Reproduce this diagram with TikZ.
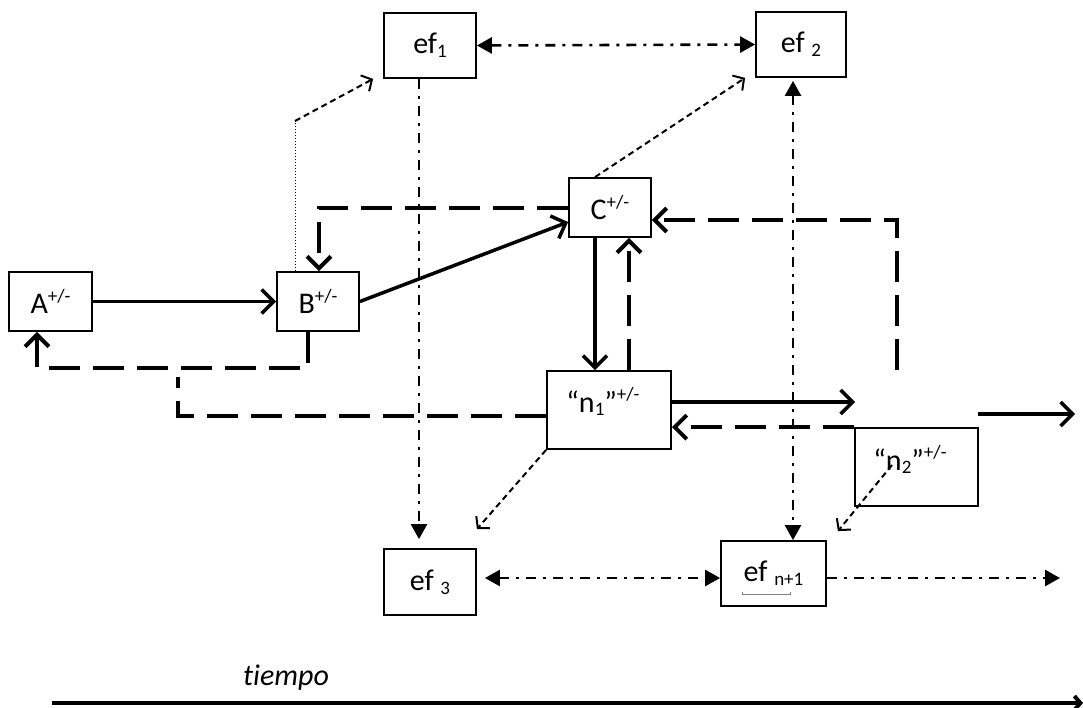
\documentclass[tikz,border=0pt]{standalone}
\usepackage{fontspec}
\setmainfont{Carlito}[Ligatures=NoCommon]
\usetikzlibrary{arrows.meta}
\newcommand\bigf{\fontsize{30}{34}\selectfont}
\newcommand\smf{\fontsize{19}{21}\selectfont}
\newcommand\supx[1]{\raisebox{0.38em}{\smf #1}}
\newcommand\subx[1]{\raisebox{-0.12em}{\smf #1}}
\begin{document}
\begin{tikzpicture}[x=1pt,y=-1pt,font=\bigf,
  box/.style={draw,line width=1.8pt,inner sep=0pt},
  strong/.style={line width=3.5pt},
  fb/.style={line width=4pt,dash pattern=on 31pt off 13pt},
  dd/.style={line width=2.6pt,dash pattern=on 10pt off 7pt on 3pt off 7pt},
  thd/.style={line width=2pt,dash pattern=on 6pt off 4pt},
  thdot/.style={line width=0.8pt,dash pattern=on 1.5pt off 1.5pt},
  sa/.style={-{Straight Barb[length=12pt,width=24pt]}},
  sb/.style={-{Straight Barb[length=8pt,width=18pt]}},
  ta/.style={-{Triangle[length=15pt,width=16pt]}},
  tb/.style={{Triangle[length=15pt,width=16pt]}-{Triangle[length=15pt,width=16pt]}}]
\useasboundingbox (0,0) rectangle (1083,707);
% boxes
\node[box,minimum width=92pt,minimum height=65pt] (ef1) at (430,45.5) {ef\subx{1}};
\node[box,minimum width=90pt,minimum height=65pt] (ef2) at (801,44.5) {ef \subx{2}};
\node[box,minimum width=82pt,minimum height=59pt] (C) at (610,207.5) {C\supx{+/-}};
\node[box,minimum width=83pt,minimum height=59pt] (A) at (50.5,301.5) {A\supx{+/-}};
\node[box,minimum width=82pt,minimum height=59pt] (B) at (318,301.5) {B\supx{+/-}};
\node[box,minimum width=124pt,minimum height=78pt] (n1) at (609,410) {};
\node[anchor=base,inner sep=0pt] (n1t) at (603,412) {“n\subx{1}”\supx{+/-}};
\node[box,minimum width=123pt,minimum height=78pt] (n2) at (916.5,467) {};
\node[anchor=base,inner sep=0pt] (n2t) at (910,470) {“n\subx{2}”\supx{+/-}};
\node[box,minimum width=92pt,minimum height=66pt] (ef3) at (430,582) {ef \subx{3}};
\node[box,minimum width=105pt,minimum height=65pt] (efn) at (773.5,573.5) {ef \subx{n+1}};
\node[font=\bigf\itshape] (tiempo) at (286,678) {tiempo};
% free ends
\coordinate (bend1) at (295,121);
\coordinate (fbc) at (37,368);
\coordinate (j1) at (178,377);
\coordinate (r1) at (897,370);
\coordinate (r2) at (855,402);
\coordinate (o1) at (978,414);
\coordinate (o2) at (1075,414);
\coordinate (end1) at (1060,578);
\coordinate (n2in) at (892,465);
\coordinate (t0) at (52,703);
\coordinate (t1) at (1083,703);
% solid arrows
\draw[strong,sa] (A.east) -- (B.west);
\draw[strong,sa] (B.east) -- ([yshift=-14.5pt]C.west);
\draw[strong,sa] ([xshift=-15pt]C.south) -- ([xshift=-15pt]C.south |- n1.north);
\draw[strong,sa] ([yshift=8pt]n1.east) -- (r2);
\draw[strong,sa] (o1) -- (o2);
% thick dashed feedback
\draw[fb,sa] (C.west) -| ([xshift=1pt]B.north);
\draw[fb,sa] ([xshift=-10pt]B.south) |- (fbc) -- ([xshift=-13.5pt]A.south);
\draw[fb] ([yshift=-6pt]n1.west) -| (j1);
\draw[fb,sa] ([xshift=19pt]C.south |- n1.north) -- ([xshift=19pt]C.south);
\draw[fb,sa] (r1) |- ([yshift=-12.5pt]C.east);
\draw[fb,sa] (n2.north west) -- (n2.north west -| n1.east);
% thin dashed
\draw[thdot] ([xshift=-23pt]B.north) -- (bend1);
\draw[thd,sb] (bend1) -- ([xshift=-10pt]ef1.south west);
\draw[thd,sb] ([xshift=-15pt]C.north) -- ([xshift=-10pt]ef2.south west);
\draw[thd,sb] (n1.south west) -- ([yshift=19pt]ef3.north east);
\draw[thd,sb] (n2in) -- ([xshift=11pt,yshift=9pt]efn.north east);
% dash-dot
\draw[dd,tb] (ef1.east) -- (ef2.west);
\draw[dd,ta,shorten >=9pt] ([xshift=-11pt]ef1.south) -- ([xshift=-11pt]ef1.south |- ef3.north);
\draw[dd,tb,shorten <=3pt] ([xshift=-8pt]ef2.south) -- ([xshift=-8pt]ef2.south |- efn.north);
\draw[dd,tb,shorten <=8pt] ([yshift=4pt]ef3.east) -- ([yshift=-4.5pt]efn.west);
\draw[dd,ta] ([yshift=-4.5pt]efn.east) -- (end1);
% underline in ef n+1
\draw[gray,line width=1pt] (742,592) -- (742,594) -- (790,594) -- (790,592);
% time axis
\draw[line width=4pt,-{Straight Barb[length=6pt,width=14pt]}] (t0) -- (t1);
\end{tikzpicture}
\end{document}
